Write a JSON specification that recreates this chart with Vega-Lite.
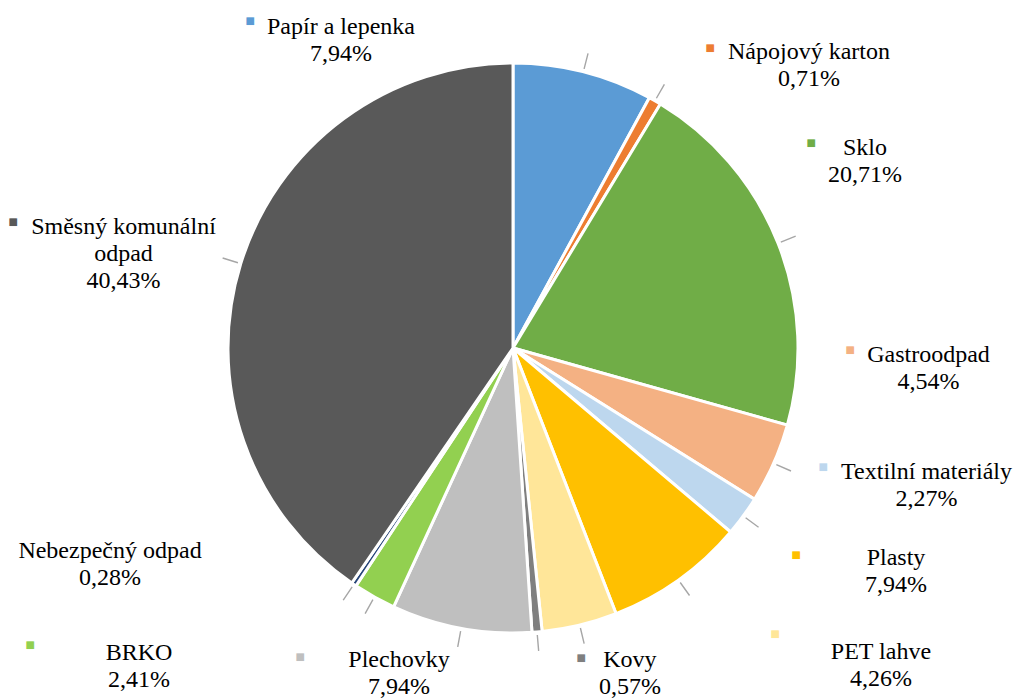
{
  "$schema": "https://vega.github.io/schema/vega-lite/v6.json",
  "autosize": "none",
  "width": 1010,
  "height": 696,
  "padding": {"left": 8, "top": 0, "right": 0, "bottom": 4},
  "background": "white",
  "config": {
    "view": {"stroke": null},
    "font": "Liberation Serif, Times New Roman, serif",
    "text": {"font": "Liberation Serif, Times New Roman, serif", "fontSize": 24, "lineHeight": 27}
  },
  "data": {
    "values": [
      {"order": 1, "name": "Papír a lepenka", "share": 7.94},
      {"order": 2, "name": "Nápojový karton", "share": 0.71},
      {"order": 3, "name": "Sklo", "share": 20.71},
      {"order": 4, "name": "Gastroodpad", "share": 4.54},
      {"order": 5, "name": "Textilní materiály", "share": 2.27},
      {"order": 6, "name": "Plasty", "share": 7.94},
      {"order": 7, "name": "PET lahve", "share": 4.26},
      {"order": 8, "name": "Kovy", "share": 0.57},
      {"order": 9, "name": "Plechovky", "share": 7.94},
      {"order": 10, "name": "BRKO", "share": 2.41},
      {"order": 11, "name": "Nebezpečný odpad", "share": 0.28},
      {"order": 12, "name": "Směsný komunální odpad", "share": 40.43}
    ]
  },
  "encoding": {
    "theta": {"field": "share", "type": "quantitative", "stack": true},
    "order": {"field": "order", "type": "quantitative"}
  },
  "layer": [
    {
      "mark": {"type": "arc", "outerRadius": 285, "stroke": "white", "strokeWidth": 3},
      "encoding": {
        "color": {
          "field": "name",
          "type": "nominal",
          "legend": null,
          "scale": {
            "domain": ["Papír a lepenka", "Nápojový karton", "Sklo", "Gastroodpad", "Textilní materiály", "Plasty", "PET lahve", "Kovy", "Plechovky", "BRKO", "Nebezpečný odpad", "Směsný komunální odpad"],
            "range": ["#5B9BD5", "#ED7D31", "#70AD47", "#F4B183", "#BDD7EE", "#FFC000", "#FFE699", "#7F7F7F", "#BFBFBF", "#92D050", "#264478", "#595959"]
          }
        }
      }
    },
    {
      "mark": {"type": "arc", "innerRadius": 288, "outerRadius": 304, "padAngle": 3.1, "filled": false, "stroke": "#A6A6A6", "strokeWidth": 1.4}
    },
    {
      "mark": {
        "type": "text",
        "font": "Liberation Serif, Times New Roman, serif",
        "fontSize": 24,
        "lineHeight": 27,
        "lineBreak": "\n",
        "color": "#000000",
        "align": "center",
        "baseline": "middle",
        "dx": {"expr": "[-253.5, 131.7, 45.1, 113.7, 147, 191.4, 290.7, 89.1, -54, -213.5, -218.7, -74.3][datum.order - 1]"},
        "dy": {"expr": "[-1, -9.8, -78.6, -126.5, -70.6, -58.7, -16.8, -16.8, -12.5, 16.6, -70.8, -23.3][datum.order - 1]"},
        "text": {"expr": "replace(datum.name, 'komunální ', 'komunální\\n') + '\\n' + replace(format(datum.share, '.2f'), '.', ',') + '%'"}
      },
      "encoding": {
        "radius": {"value": 330}
      }
    },
    {
      "mark": {
        "type": "text",
        "font": "Liberation Serif, Times New Roman, serif",
        "fontSize": 31,
        "align": "center",
        "baseline": "middle",
        "dx": {"expr": "[-344.5, 32.7, -8.9, 35.2, 43.5, 91.4, 184.7, 40.1, -153, -322.5, 0, -184.8][datum.order - 1]"},
        "dy": {"expr": "[-6.2, -12.8, -82.6, -130.5, -74.6, -60.7, -33.8, -17.8, -14.5, 9.6, 0, -27.3][datum.order - 1]"},
        "text": {"expr": "datum.order == 11 ? '' : '▪'"}
      },
      "encoding": {
        "radius": {"value": 330},
        "color": {"field": "name", "type": "nominal", "legend": null}
      }
    }
  ]
}
